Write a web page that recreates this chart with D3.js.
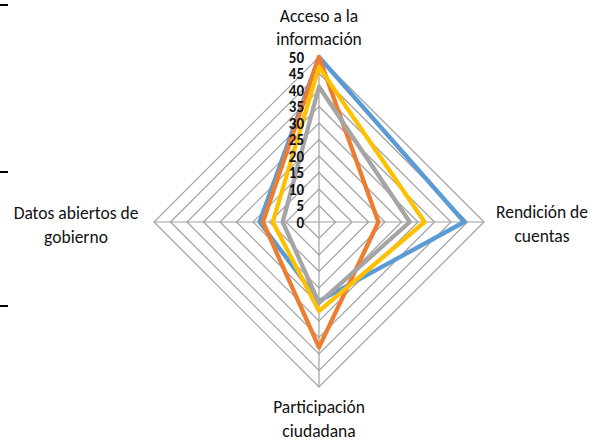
<!DOCTYPE html>
<html>
<head>
<meta charset="utf-8">
<script src="https://cdn.jsdelivr.net/npm/d3@7"></script>
<style>
  html, body { margin: 0; padding: 0; background: #fff; }
  svg { display: block; }
  text { font-family: Carlito, Calibri, Lato, "Open Sans", sans-serif; fill: #111; }
</style>
</head>
<body>
<svg id="chart" width="597" height="443"></svg>
<script>
// ---- data ----
const categories = ["Acceso a la información", "Rendición de cuentas", "Participación ciudadana", "Datos abiertos de gobierno"];
const categoryLines = [["Acceso a la", "información"], ["Rendición de", "cuentas"], ["Participación", "ciudadana"], ["Datos abiertos de", "gobierno"]];
const seriesNames = ["Serie 1", "Serie 2", "Serie 3", "Serie 4"];
const serie1 = [50, 44, 24, 18];      // blue
const serie2 = [50, 18, 38, 17];      // orange
const serie3 = [41, 27.5, 24.5, 11];  // gray
const serie4 = [47, 32, 27, 14];      // yellow
const tickValues = [0, 5, 10, 15, 20, 25, 30, 35, 40, 45, 50];
const colors = ["#5B9BD5", "#ED7D31", "#A5A5A5", "#FFC000"];

// ---- layout ----
const svg = d3.select("#chart");
const cx = 319, cy = 222, R = 165;
const r = d3.scaleLinear().domain([0, 50]).range([0, R]);
const angle = d3.scaleBand().domain(categories).range([0, 2 * Math.PI]).align(0).paddingInner(0).paddingOuter(0);
const ang = c => angle(c) - Math.PI / 2;
const pt = (c, v) => [cx + r(v) * Math.cos(ang(c)), cy + r(v) * Math.sin(ang(c))];

// left-edge marks (cut-off element of the page)
[5, 172, 306].forEach(y => {
  svg.append("line").attr("x1", 0).attr("x2", 8).attr("y1", y).attr("y2", y)
    .attr("stroke", "#000").attr("stroke-width", 2);
});

const g = svg.append("g");

// grid rings
tickValues.filter(t => t > 0).forEach(t => {
  g.append("path")
    .attr("d", d3.line()(categories.map(c => pt(c, t))) + "Z")
    .attr("fill", "none").attr("stroke", "#A0A0A0").attr("stroke-width", 1.2);
});
// spokes
categories.forEach(c => {
  const [x, y] = pt(c, 50);
  g.append("line").attr("x1", cx).attr("y1", cy).attr("x2", x).attr("y2", y)
    .attr("stroke", "#A0A0A0").attr("stroke-width", 1.2);
});

// series
const allSeries = [serie1, serie2, serie3, serie4];
const drawOrder = [0, 1, 3, 2];
drawOrder.forEach(i => {
  const vals = allSeries[i];
  g.append("path")
    .attr("d", d3.line()(categories.map((c, k) => pt(c, vals[k]))) + "Z")
    .attr("fill", "none").attr("stroke", colors[i]).attr("stroke-width", 4.3)
    .attr("stroke-linejoin", "round");
});

// tick labels
tickValues.forEach(t => {
  g.append("text")
    .attr("x", cx - 15).attr("y", cy - r(t) + 5.5)
    .attr("text-anchor", "end")
    .attr("font-size", 15).attr("font-weight", "bold").attr("fill", "#000")
    .text(t);
});

// category labels
const fs = 17.5, lh = 23.5;
categoryLines.forEach((lines, i) => {
  const c = categories[i];
  const [x, y] = pt(c, 50);
  let tx, ty0;
  if (i === 0) { tx = x; ty0 = y - 12 - lh; }
  else if (i === 1) { tx = x + 58; ty0 = y - 4; }
  else if (i === 2) { tx = x; ty0 = y + 26; }
  else { tx = x - 78; ty0 = y - 3; }
  const t = svg.append("text").attr("text-anchor", "middle").attr("font-size", fs);
  lines.forEach((ln, j) => {
    t.append("tspan").attr("x", tx).attr("y", ty0 + j * lh).text(ln);
  });
});
</script>
</body>
</html>
